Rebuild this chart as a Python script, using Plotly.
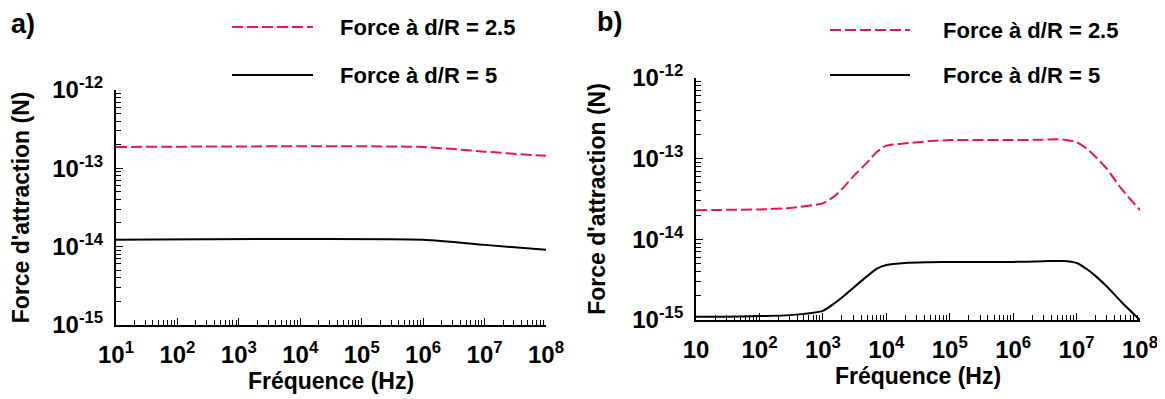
import plotly.graph_objects as go
from plotly.subplots import make_subplots

ROSE = "#f0105e"
NOIR = "black"
POLICE = "Liberation Sans, Arial, sans-serif"

# panneau a)
freq_a = [10, 1e6, 1e7, 1e8]
force_a_25 = [1.87e-13, 1.87e-13, 1.63e-13, 1.44e-13]
force_a_5 = [1.22e-14, 1.22e-14, 1.05e-14, 9.1e-15]

# panneau b)
freq_b = [10, 30, 100, 300, 1000, 1500, 2000, 3000, 5000, 7000, 1e4, 2e4, 5e4,
          1e5, 1e6, 3e6, 6e6, 1e7, 1.5e7, 2e7, 3e7, 5e7, 1e8]
force_b_25 = [2.3e-14, 2.32e-14, 2.35e-14, 2.45e-14, 2.8e-14, 3.4e-14, 4.2e-14, 6.0e-14,
              9.0e-14, 1.2e-13, 1.45e-13, 1.55e-13, 1.65e-13, 1.7e-13, 1.7e-13, 1.72e-13,
              1.73e-13, 1.6e-13, 1.3e-13, 1.05e-13, 7.5e-14, 4.3e-14, 2.3e-14]
force_b_5 = [1.1e-15, 1.1e-15, 1.12e-15, 1.15e-15, 1.3e-15, 1.6e-15, 1.9e-15, 2.5e-15,
             3.5e-15, 4.3e-15, 4.8e-15, 5.1e-15, 5.2e-15, 5.25e-15, 5.25e-15, 5.35e-15,
             5.4e-15, 5.1e-15, 4.2e-15, 3.5e-15, 2.6e-15, 1.7e-15, 1.0e-15]

legende = ["Force à d/R = 2.5", "Force à d/R = 5"]
x_ticks = [10 ** k for k in range(1, 9)]
x_labels_a = [f"10<sup>{k}</sup>" for k in range(1, 9)]
x_labels_b = ["10"] + [f"10<sup>{k}</sup>" for k in range(2, 9)]
y_ticks = [1e-15, 1e-14, 1e-13, 1e-12]
y_labels = ["10<sup>-15</sup>", "10<sup>-14</sup>", "10<sup>-13</sup>", "10<sup>-12</sup>"]

fig = make_subplots(rows=1, cols=2)

for col, (fx, f25, f5) in enumerate([(freq_a, force_a_25, force_a_5),
                                      (freq_b, force_b_25, force_b_5)], start=1):
    fig.add_trace(go.Scatter(x=fx, y=f25, mode="lines", name=legende[0], showlegend=False,
                             line=dict(color=ROSE, width=2, dash="11px,4px", shape="spline", smoothing=0.6)),
                  row=1, col=col)
    fig.add_trace(go.Scatter(x=fx, y=f5, mode="lines", name=legende[1], showlegend=False,
                             line=dict(color=NOIR, width=2, shape="spline", smoothing=0.6)),
                  row=1, col=col)

police_ticks = dict(family=POLICE, size=24, color="black", weight="bold")
police_titre = dict(family=POLICE, size=23, color="black", weight="bold")
axe_commun = dict(type="log", showgrid=False, zeroline=False, showline=True, linecolor="black",
                  linewidth=2, ticks="inside", ticklen=7, tickwidth=1.2, tickcolor="black",
                  mirror=False, tickfont=police_ticks, automargin=False, ticklabeloverflow="allow",
                  minor=dict(ticks="inside", ticklen=5, tickwidth=1, tickcolor="black",
                             dtick="D1", showgrid=False))

fig.update_xaxes(**axe_commun, range=[1, 8], tickvals=x_ticks, ticklabelstandoff=7,
                 title=dict(text="Fréquence (Hz)", font=police_titre, standoff=0))
fig.update_yaxes(**axe_commun, range=[-15, -12], tickvals=y_ticks, ticktext=y_labels,
                 ticklabelstandoff=6,
                 title=dict(text="Force d'attraction (N)", font=police_titre, standoff=20))
fig.update_xaxes(ticktext=x_labels_a, domain=[0.0927, 0.4618], row=1, col=1)
fig.update_xaxes(ticktext=x_labels_b, domain=[0.5906, 0.9717], row=1, col=2)
fig.update_yaxes(domain=[0.206, 0.7945], row=1, col=1)
fig.update_yaxes(domain=[0.218, 0.8246], row=1, col=2)

# légendes dessinées à la main (échantillons longs comme dans l'original)
police_leg = dict(family=POLICE, size=22, color="black", weight="bold")
for (x0, x1, xt), (y_rose, y_noir) in [((224, 305, 330), (19, 67)), ((822, 902, 933), (22, 67))]:
    for y, couleur, dash, texte in [(y_rose, ROSE, "11px,4px", legende[0]),
                                    (y_noir, NOIR, "solid", legende[1])]:
        fig.add_shape(type="line", xref="paper", yref="paper",
                      x0=x0 / 1165, x1=x1 / 1165, y0=1 - y / 399, y1=1 - y / 399,
                      line=dict(color=couleur, width=2, dash=dash))
        fig.add_annotation(xref="paper", yref="paper", x=xt / 1165, y=1 - y / 399,
                           xanchor="left", yanchor="middle", text=texte, showarrow=False,
                           font=police_leg)

police_panneau = dict(family=POLICE, size=27, color="black", weight="bold")
fig.add_annotation(xref="paper", yref="paper", x=1 / 1165, y=1 - 16 / 399, xanchor="left",
                   yanchor="middle", text="a)", showarrow=False, font=police_panneau)
fig.add_annotation(xref="paper", yref="paper", x=587 / 1165, y=1 - 14 / 399, xanchor="left",
                   yanchor="middle", text="b)", showarrow=False, font=police_panneau)

fig.update_layout(width=1165, height=399, margin=dict(l=0, r=0, t=0, b=0),
                  paper_bgcolor="white", plot_bgcolor="white", showlegend=False)
fig.write_html("out.html")
